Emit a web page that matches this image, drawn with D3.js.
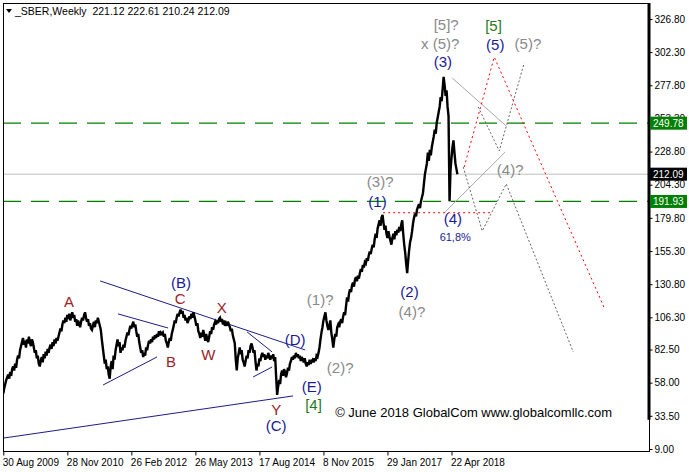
<!DOCTYPE html>
<html><head><meta charset="utf-8">
<script src="https://cdn.jsdelivr.net/npm/d3@7"></script>
<style>
body{margin:0;background:#fff}
svg{display:block}
text{font-family:"Liberation Sans",Arial,sans-serif}
</style>
</head><body>
<svg id="c" width="689" height="472"></svg>
<script>
// ---------- DATA ----------
const symbolTitle = "_SBER,Weekly";
const ohlcText = "221.12 222.61 210.24 212.09";
const firstWeek = "2009-08-30";
// weekly closes, one per week from firstWeek
const closes = [
50,54,57,60,62,
64,61,66,63,68,70,67,72,69,75,
78,76,82,85,88,91,
86,89,84,90,87,92,88,85,90,88,
84,80,82,76,78,72,70,
74,77,73,79,76,81,78,83,80,84,
86,83,88,85,90,87,91,89,92,
95,98,96,101,104,
102,106,103,108,105,109,104,107,110,
106,108,103,105,100,104,101,99,
103,106,104,108,110,
106,103,105,100,102,98,97,
100,103,99,104,102,106,
103,100,97,90,84,
78,72,75,68,70,64,61,
70,74,68,78,75,82,86,90,
85,88,80,84,82,
86,84,89,92,95,93,97,100,98,101,103,
99,101,96,92,94,88,84,80,82,77,
80,78,84,82,86,89,87,90,88,92,
90,93,91,94,92,96,93,95,94,95,
92,94,89,87,84,
88,91,89,94,97,
100,104,102,106,109,107,110,112,
109,111,106,108,104,106,102,
104,107,105,109,106,110,
107,104,100,102,96,94,91,
95,92,97,93,89,94,90,88,
92,96,94,99,97,101,103,
101,104,102,105,106,
103,105,101,104,100,102,100,103,101,99,
96,98,93,90,87,
75,67,
76,80,84,
79,82,75,73,70,
74,78,76,82,80,85,87,
84,80,82,74,67,
72,70,76,74,78,80,
77,79,75,78,76,80,77,75,
78,76,79,74,77,
62,49,
55,60,57,64,67,
63,68,66,62,65,
69,67,72,74,77,
75,78,76,80,77,79,
76,78,74,77,75,
73,76,72,70,
73,71,75,72,74,75,
73,76,74,78,77,
80,84,90,
95,99,104,107,110,
104,100,97,
100,104,95,90,84,
90,94,92,99,
101,99,103,105,102,107,
110,108,115,121,
118,124,127,125,130,132,
129,134,136,133,137,135,139,
142,140,145,143,147,146,150,
148,152,155,153,157,160,
158,164,168,165,172,175,178,
174,180,182,
176,171,174,168,165,170,166,163,
160,165,168,164,170,
167,171,169,173,170,175,178,
168,160,154,146,139,
148,156,162,165,170,176,180,183,
181,186,188,190,187,192,195,198,
205,212,216,220,
228,222,230,226,232,
236,240,245,242,250,254,
258,262,269,266,275,284,
278,270,274,262,255,
192,
215,224,232,237,228,220,216,212
];
const xTickWeeks  = [0, 65, 130, 195, 260, 325, 390, 455];
const xTickLabels = ["30 Aug 2009","28 Nov 2010","26 Feb 2012","26 May 2013","17 Aug 2014","8 Nov 2015","29 Jan 2017","22 Apr 2018"];
const yTickValues = [9.00,33.50,58.00,82.50,106.30,130.80,155.30,179.80,204.30,228.80,253.30,277.80,302.30,326.80];
const weekDomain  = [-0.3, 655.5];
const priceDomain = [7.5, 338.6];
const greenLevels = [249.78, 191.93];
const lastPrice   = 212.09;

// trend lines: [week, price] pairs
const navyLines = [
  [[0.7,17.1],[294.2,48.2]],
  [[98.3,133.2],[306.4,82.2]],
  [[116.5,108.8],[167.3,98.4]],
  [[101.3,56.3],[156.1,77.0]],
  [[247.5,95.5],[272.9,80.7]],
  [[253.6,62.2],[272.9,69.6]]
];
const graySolidLines = [
  [[455.7,283.2],[510.6,247.7]],
  [[448.6,184.2],[509.5,228.5]]
];
const grayDottedPaths = [
  [[482.1,261.8],[503.5,229.3],[528.8,294.3]],
  [[466.9,217.4],[486.2,170.1],[510.6,204.9],[578.6,80.7]]
];
const redDottedPaths = [
  [[467.9,217.4],[498.4,298.7],[610.1,113.2]],
  [[385.6,183.6],[497.4,183.6]]
];

// wave labels: [text, week, price]
const redLabels = [["A",66.7,117.9],["B",170.3,73.5],["C",179.5,120.4],["W",208.2,79],["X",221.8,113.4],["Y",277,37.8]];
const navyLabels = [["(B)",180.5,131.9],["(D)",296.3,90.1],["(E)",313.2,55],["(C)",277,26.2],
  ["(1)",379.9,191.8],["(2)",412.4,125.3],["(3)",446.3,295.3],["(4)",456.4,179.5],["(5)",499.4,307.6]];
const grayLabels = [["(1)?",321.7,119.6],["(2)?",342,69.4],["(3)?",382.6,206.6],["(4)?",414.8,110.5],
  ["[5]?",449.6,322.4],["x (5)?",443.5,308.9],["(5)?",532.6,308.9],["(4)?",514.6,215.2]];
const greenLabels = [["[4]",314.9,41.5],["[5]",497.7,321.6]];
const fibLabel = ["61,8%",458.8,165.9];
const copyright = ["© June 2018 GlobalCom www.globalcomllc.com",336.9,32.7];

// ---------- CHART ----------
const svg = d3.select("#c");
const L=3, R=649, T=3, B=451;
const t0 = new Date(firstWeek+"T00:00:00Z").getTime();
const weekDate = w => new Date(t0 + w*7*864e5);
const x = d3.scaleUtc().domain(weekDomain.map(weekDate)).range([L,R]);
const y = d3.scaleLinear().domain(priceDomain).range([B,T]);
const px = w => x(weekDate(w));

const NAVY="#1a1a96", DRED="#9b2226", GRAY="#8a8a8a", GREEN="#008000", LGREEN="#1f7a1f";

svg.append("defs").append("clipPath").attr("id","pc")
  .append("rect").attr("x",L).attr("y",T).attr("width",R-L).attr("height",B-T);
const plot = svg.append("g").attr("clip-path","url(#pc)");

// last price line
plot.append("line").attr("x1",L).attr("x2",R).attr("y1",y(lastPrice)).attr("y2",y(lastPrice))
  .attr("stroke","#c0c0c0").attr("stroke-width",1);
// green dashed levels
plot.selectAll(".lvl").data(greenLevels).join("line")
  .attr("x1",L).attr("x2",R).attr("y1",d=>y(d)).attr("y2",d=>y(d))
  .attr("stroke",GREEN).attr("stroke-width",1.2).attr("stroke-dasharray","18,10");

const lineGen = d3.line().x(d=>px(d[0])).y(d=>y(d[1]));
plot.selectAll(".nl").data(navyLines).join("path").attr("d",lineGen)
  .attr("fill","none").attr("stroke","#1c1c8a").attr("stroke-width",1);
plot.selectAll(".gs").data(graySolidLines).join("path").attr("d",lineGen)
  .attr("fill","none").attr("stroke","#a8a8a8").attr("stroke-width",1);
plot.selectAll(".gd").data(grayDottedPaths).join("path").attr("d",lineGen)
  .attr("fill","none").attr("stroke","#666").attr("stroke-width",1).attr("stroke-dasharray","2,2");
plot.selectAll(".rd").data(redDottedPaths).join("path").attr("d",lineGen)
  .attr("fill","none").attr("stroke","#ff0000").attr("stroke-width",1).attr("stroke-dasharray","2,3");

// price
plot.append("path").datum(closes.map((c,i)=>[i,c]))
  .attr("d",lineGen).attr("fill","none").attr("stroke","#000").attr("stroke-width",2.4)
  .attr("stroke-linejoin","miter").attr("stroke-miterlimit",3);

// labels
function labels(arr, color, size){
  plot.selectAll(null).data(arr).join("text")
    .attr("x",d=>px(d[1])).attr("y",d=>y(d[2])).attr("dy","0.36em")
    .attr("text-anchor","middle").attr("font-size",size).attr("fill",color).text(d=>d[0]);
}
labels(redLabels, DRED, 15);
labels(navyLabels, NAVY, 15);
labels(grayLabels, GRAY, 15);
labels(greenLabels, LGREEN, 15);
labels([fibLabel], NAVY, 11);
plot.append("text").attr("x",px(copyright[1])).attr("y",y(copyright[2]))
  .attr("font-size",13).attr("fill","#000").text(copyright[0]);

// frame
svg.append("rect").attr("x",L+0.5).attr("y",T+0.5).attr("width",R-L).attr("height",B-T)
  .attr("fill","none").attr("stroke","#000").attr("stroke-width",1);
svg.append("line").attr("x1",R).attr("x2",R).attr("y1",T).attr("y2",y(33.5)+4)
  .attr("stroke","#000").attr("stroke-width",3);

// axes
const yAxis = d3.axisRight(y).tickValues(yTickValues).tickSize(3).tickPadding(2).tickFormat(d3.format(".2f"));
const ya = svg.append("g").attr("transform",`translate(${R+0.5},0)`).call(yAxis);
ya.select(".domain").remove();
ya.selectAll("text").attr("font-size",10).attr("fill","#000").attr("font-family","Liberation Sans, Arial");
ya.selectAll("line").attr("stroke","#000");

const xAxis = d3.axisBottom(x).tickValues(xTickWeeks.map(weekDate)).tickSize(4).tickFormat((d,i)=>xTickLabels[i]);
const xa = svg.append("g").attr("transform",`translate(0,${B+0.5})`).call(xAxis);
xa.select(".domain").remove();
xa.selectAll("text").attr("font-size",10).attr("fill","#000").attr("text-anchor","start").attr("dx","-1")
  .attr("font-family","Liberation Sans, Arial");
xa.selectAll("line").attr("stroke","#000");

// price boxes
function box(v, bg){
  const g = svg.append("g");
  g.append("rect").attr("x",R+1).attr("y",y(v)-6.5).attr("width",37).attr("height",13).attr("fill",bg);
  g.append("text").attr("x",R+4).attr("y",y(v)).attr("dy","0.35em").attr("font-size",10).attr("fill","#fff")
    .text(d3.format(".2f")(v));
}
greenLevels.forEach(v=>box(v,GREEN));
box(lastPrice,"#000");

// title
svg.append("path").attr("d","M6,9 L12,9 L9,13 Z").attr("fill","#000");
svg.append("text").attr("x",15).attr("y",15).attr("font-size",10.5).attr("fill","#000")
  .text(symbolTitle + "  " + ohlcText).attr("xml:space","preserve");
</script>
</body></html>
